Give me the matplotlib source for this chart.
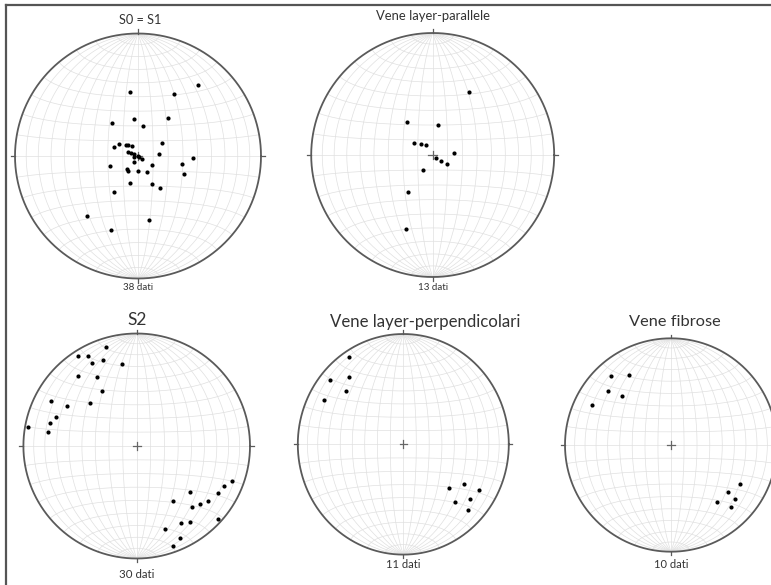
import numpy as np
import matplotlib
matplotlib.use("Agg")
import matplotlib.pyplot as plt
from matplotlib.lines import Line2D

plt.rcParams["font.family"] = ["Lato", "DejaVu Sans"]

W, H = 771, 585

# Poles (trend / plunge, degrees) for each data set
s0s1_trend = [40, 353, 30, 38, 354, 322, 10, 61, 290, 302, 313, 319, 328, 291, 296, 298, 261, 0, 121,
              129, 84, 92, 216, 250, 121, 100, 221, 212, 179, 152, 112, 196, 154, 146, 213, 170, 220, 200]
s0s1_plunge = [25, 46, 41, 58, 65, 62, 70, 72, 73, 75, 79, 80, 82, 83, 85, 87, 87, 90, 89,
               87, 76, 53, 85, 70, 79, 60, 79, 78, 80, 78, 57, 71, 69, 64, 61, 46, 36, 36]

par_trend = [30, 322, 10, 302, 313, 326, 84, 125, 127, 121, 213, 214, 200]
par_plunge = [40, 62, 70, 75, 79, 82, 76, 87, 83, 79, 78, 60, 36]

s2_trend = [343, 327, 332, 332, 339, 350, 320, 330, 328, 298, 313, 300, 290, 285, 280, 279,
            110, 115, 131, 120, 147, 128, 133, 138, 132, 145, 150, 161, 155, 160]
s2_plunge = [9, 5, 10, 18, 19, 27, 20, 30, 42, 15, 43, 30, 25, 22, 3, 22,
             11, 16, 38, 18, 41, 21, 25, 28, 4, 19, 22, 23, 11, 6]

perp_trend = [327, 310, 320, 312, 298, 122, 133, 120, 128, 137, 134]
perp_plunge = [6, 10, 21, 28, 16, 33, 41, 18, 21, 29, 16]

fib_trend = [319, 329, 310, 315, 297, 119, 129, 130, 141, 136]
fib_plunge = [15, 24, 23, 35, 18, 26, 31, 22, 32, 20]

titles = ["S0 = S1", "Vene layer-parallele", "S2", "Vene layer-perpendicolari", "Vene fibrose"]
counts = ["38 dati", "13 dati", "30 dati", "11 dati", "10 dati"]


def project(trend, plunge):
    """Lower-hemisphere equal-area projection of lines."""
    t = np.radians(np.asarray(trend, float))
    p = np.radians(np.asarray(plunge, float))
    r = np.sqrt(2.0) * np.sin((np.pi / 2 - p) / 2)
    return r * np.sin(t), r * np.cos(t)


def project_vec(xe, yn, zd):
    theta = np.arccos(np.clip(zd, -1, 1))
    r = np.sqrt(2.0) * np.sin(theta / 2)
    h = np.hypot(xe, yn)
    h = np.where(h == 0, 1, h)
    return r * xe / h, r * yn / h


def draw_net(ax):
    grid_kw = dict(color="#e0e0e0", lw=0.5, zorder=1)
    lat = np.radians(np.linspace(-90, 90, 361))
    for lam in range(-80, 81, 10):
        l = np.radians(lam)
        x, y = project_vec(np.cos(lat) * np.sin(l), np.sin(lat), np.cos(lat) * np.cos(l))
        ax.plot(x, y, **grid_kw)
    lon = np.radians(np.linspace(-90, 90, 361))
    for phi in range(-80, 81, 10):
        f = np.radians(phi)
        x, y = project_vec(np.cos(f) * np.sin(lon), np.full_like(lon, np.sin(f)), np.cos(f) * np.cos(lon))
        ax.plot(x, y, **grid_kw)
    a = np.linspace(0, 2 * np.pi, 721)
    ax.plot(np.cos(a), np.sin(a), color="#5a5a5a", lw=1.3, zorder=3, clip_on=False)
    tk = dict(color="#5a5a5a", lw=0.9, zorder=3, clip_on=False)
    ax.plot([1, 1.035], [0, 0], **tk)
    ax.plot([-1, -1.035], [0, 0], **tk)
    ax.plot([0, 0], [1, 1.035], **tk)
    ax.plot([0, 0], [-1, -1.035], **tk)
    c = 0.035
    ax.plot([-c, c], [0, 0], color="#666666", lw=0.9, zorder=3)
    ax.plot([0, 0], [-c, c], color="#666666", lw=0.9, zorder=3)
    ax.set_xlim(-1, 1)
    ax.set_ylim(-1, 1)
    ax.axis("off")


# circle geometry in pixels: centre x, centre y, radius x, radius y
geometry = [(138, 156, 123, 122.5), (432.7, 155, 121.5, 122), (136.7, 446, 113.3, 112.5),
            (403.3, 444.3, 105.5, 110.3), (671, 445, 106, 106.7)]
datasets = [(s0s1_trend, s0s1_plunge), (par_trend, par_plunge), (s2_trend, s2_plunge),
            (perp_trend, perp_plunge), (fib_trend, fib_plunge)]
title_pos = [(140, 20, 9.2), (433, 16, 9.4), (137, 320, 12.5), (425, 322, 12.1), (675, 322, 11.8)]
count_pos = [(138, 288, 7.0), (433, 287, 7.0), (137, 575, 8.3), (403, 565, 8.0), (671, 565, 8.0)]

fig = plt.figure(figsize=(W / 100, H / 100), dpi=100)
fig.patch.set_facecolor("white")

for (cx, cy, rx, ry), (tr, pl) in zip(geometry, datasets):
    ax = fig.add_axes([(cx - rx) / W, 1 - (cy + ry) / H, 2 * rx / W, 2 * ry / H])
    draw_net(ax)
    x, y = project(tr, pl)
    ax.plot(x, y, "o", color="black", ms=3.0, mec="none", zorder=4, clip_on=False)

for (x, y, fs), t in zip(title_pos, titles):
    fig.text(x / W, 1 - y / H, t, ha="center", va="center", fontsize=fs, color="#333333")
for (x, y, fs), t in zip(count_pos, counts):
    fig.text(x / W, 1 - y / H, t, ha="center", va="center", fontsize=fs, color="#333333")

# frame lines along the top and left edges
fig.add_artist(Line2D([6 / W, 1], [1 - 5 / H, 1 - 5 / H], transform=fig.transFigure, color="#555555", lw=1.6))
fig.add_artist(Line2D([6 / W, 6 / W], [0, 1 - 5 / H], transform=fig.transFigure, color="#555555", lw=1.6))

fig.savefig("out.png", dpi=100)
